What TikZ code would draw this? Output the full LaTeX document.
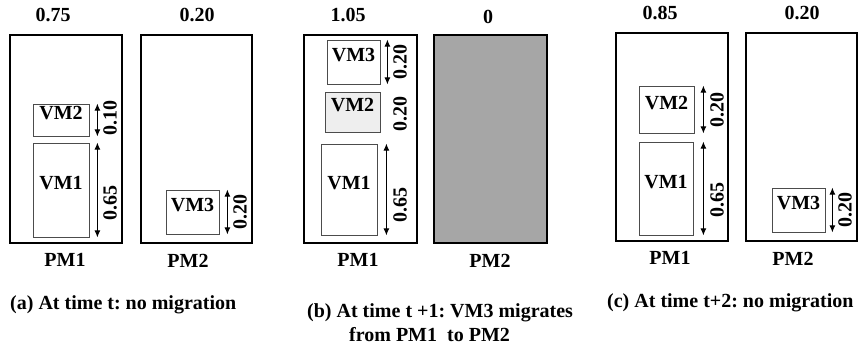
\documentclass[tikz,border=0pt]{standalone}
\usepackage{fontspec}
\setmainfont{Liberation Serif}
\usetikzlibrary{fit,arrows.meta}
\frenchspacing
\begin{document}
\begin{tikzpicture}[x=1pt,y=-1pt,
  every node/.style={font=\fontsize{20}{22}\selectfont\bfseries, inner sep=0pt},
  pmbox/.style={draw=black, line width=2pt, inner sep=0pt},
  vmbox/.style={draw=black!70, line width=0.8pt, inner sep=0pt},
  dim/.style={line width=1pt, {Latex[length=7pt,width=6pt]}-{Latex[length=7pt,width=6pt]}},
  val/.style={rotate=90},
  caption/.style={anchor=west},
]
\useasboundingbox (0,0) rectangle (859,350);

% ---------- (a) time t ----------
\node[pmbox, fit={(10,35) (122,243)}] (pm1a) {};
\node[pmbox, fit={(141,35) (252,243)}] (pm2a) {};
\node[vmbox, fit={(33,104) (89,136)}] (vm2a) {VM2};
\node[vmbox, fit={(33,143) (89,237)}] (vm1a) {VM1};
\node[vmbox, fit={(166,190) (219,234)}] (vm3a) {VM3};
\draw[dim] ([xshift=8pt]vm2a.north east) -- ([xshift=8pt]vm2a.south east);
\draw[dim] ([xshift=8pt]vm1a.north east) -- ([xshift=8pt]vm1a.south east);
\draw[dim] ([xshift=8pt]vm3a.north east) -- ([xshift=8pt]vm3a.south east);
\node[val] (l2a) at (110,118) {0.10};
\node[val] (l1a) at (110,203) {0.65};
\node[val] (l3a) at (240,212) {0.20};
\node (ua1) at (53,15) {0.75};
\node (ua2) at (197,15) {0.20};
\node (na1) at (65,260) {PM1};
\node (na2) at (188,261) {PM2};
\node[caption] (capa) at (10,305) {(a) At time t: no migration};

% ---------- (b) time t+1 ----------
\node[pmbox, fit={(304,35) (417,243)}] (pm1b) {};
\node[pmbox, fill={rgb,255:red,166;green,166;blue,166}, fit={(434,35) (547,243)}] (pm2b) {};
\node[vmbox, fit={(327,40) (380,84)}] (vm3b) {VM3};
\node[vmbox, fill={rgb,255:red,238;green,238;blue,238}, fit={(325,92) (380,132)}] (vm2b) {VM2};
\node[vmbox, fit={(321,144) (377,235)}] (vm1b) {VM1};
\draw[dim] ([xshift=7pt]vm3b.north east) -- ([xshift=7pt]vm3b.south east);
\draw[dim] ([xshift=9pt]vm1b.north east) -- ([xshift=9pt]vm1b.south east);
\node[val] (l3b) at (400,62) {0.20};
\node[val] (l2b) at (400,114) {0.20};
\node[val] (l1b) at (400,205) {0.65};
\node (ub1) at (348,15) {1.05};
\node (ub2) at (488,17) {0};
\node (nb1) at (358,260) {PM1};
\node (nb2) at (490,261) {PM2};
\node[caption] (capb1) at (307,313) {(b) At time t +1: VM3 migrates};
\node[caption] (capb2) at (349,335) {from PM1\ \ to PM2};

% ---------- (c) time t+2 ----------
\node[pmbox, fit={(616,33) (728,241)}] (pm1c) {};
\node[pmbox, fit={(746,33) (857,241)}] (pm2c) {};
\node[vmbox, fit={(639,86) (694,133)}] (vm2c) {VM2};
\node[vmbox, fit={(639,142) (693,235)}] (vm1c) {VM1};
\node[vmbox, fit={(772,188) (825,232)}] (vm3c) {VM3};
\draw[dim] ([xshift=9pt]vm2c.north east) -- ([xshift=9pt]vm2c.south east);
\draw[dim] ([xshift=10pt]vm1c.north east) -- ([xshift=10pt]vm1c.south east);
\draw[dim] ([xshift=7pt]vm3c.north east) -- ([xshift=7pt]vm3c.south east);
\node[val] (l2c) at (717,110) {0.20};
\node[val] (l1c) at (717,200) {0.65};
\node[val] (l3c) at (845,210) {0.20};
\node (uc1) at (660,13) {0.85};
\node (uc2) at (802,13) {0.20};
\node (nc1) at (670,258) {PM1};
\node (nc2) at (793,259) {PM2};
\node[caption] (capc) at (607,303) {(c) At time t+2: no migration};
\end{tikzpicture}
\end{document}
